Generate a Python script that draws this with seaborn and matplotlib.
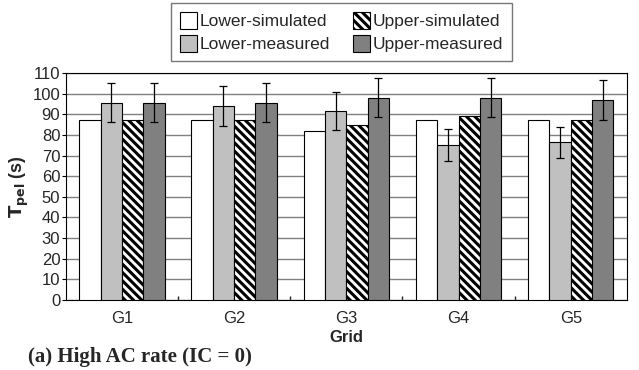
import matplotlib
matplotlib.use("Agg")
import matplotlib.pyplot as plt
import seaborn as sns
import pandas as pd
import numpy as np
from matplotlib.patches import Patch

grids = ["G1", "G2", "G3", "G4", "G5"]
series = ["Lower-simulated", "Lower-measured", "Upper-simulated", "Upper-measured"]
lower_sim = [87, 87, 82, 87, 87]
lower_meas = [95.5, 94, 91.5, 75, 76.5]
upper_sim = [87, 87, 85, 89, 87]
upper_meas = [95.5, 95.5, 98, 98, 97]
lower_meas_err = [9.5, 9.5, 9.3, 7.6, 7.5]
upper_meas_err = [9.5, 9.5, 9.5, 9.5, 9.7]
yticks = list(range(0, 111, 10))

sns.set_theme(style="white")
plt.rcParams['font.family'] = ['Liberation Sans', 'DejaVu Sans']
plt.rcParams['hatch.linewidth'] = 2.2
plt.rcParams['hatch.color'] = 'black'

df = pd.DataFrame({
    "Grid": grids * 4,
    "Series": sum([[s] * 5 for s in series], []),
    "Value": lower_sim + lower_meas + upper_sim + upper_meas,
})

fig = plt.figure(figsize=(6.39, 3.70), dpi=100)
ax = fig.add_axes([0.103, 0.189, 0.878, 0.614])

colors = ["#ffffff", "#c0c0c0", "#ffffff", "#808080"]
sns.barplot(data=df, x="Grid", y="Value", hue="Series", hue_order=series,
            palette=colors, order=grids, width=0.76, errorbar=None,
            edgecolor="black", linewidth=0.8, legend=False, ax=ax, zorder=3)

HATCH = "\\\\\\\\"
containers = ax.containers
for p in containers[2]:
    p.set_hatch(HATCH)
for cont, errs in [(containers[1], lower_meas_err), (containers[3], upper_meas_err)]:
    xs = [p.get_x() + p.get_width() / 2 for p in cont]
    hs = [p.get_height() for p in cont]
    ax.errorbar(xs, hs, yerr=errs, fmt="none", ecolor="black", elinewidth=0.9,
                capsize=3, capthick=0.9, zorder=4)

ax.set_ylim(0, 110)
ax.set_xlim(-0.5, 4.5)
ax.set_yticks(yticks)
ax.yaxis.grid(True, color="#808080", linewidth=1.0, zorder=0)
ax.set_axisbelow(True)
for s in ax.spines.values():
    s.set_color("black")
    s.set_linewidth(0.8)
ax.tick_params(axis="y", direction="out", length=3, width=0.8, labelsize=12, pad=1, left=True, color="black")
ax.tick_params(axis="x", length=0, labelsize=12, pad=8)
ax.set_xticks(np.arange(0.5, 4.5, 1.0), minor=True)
ax.tick_params(axis="x", which="minor", direction="in", length=3, bottom=True)

ax.set_xlabel("Grid", fontsize=12, fontweight="bold", labelpad=3)
ax.set_ylabel(r"$\mathbf{T_{pel}}$ (s)", fontsize=13, fontweight="bold", labelpad=1)

handles = [Patch(facecolor=c, edgecolor="black", linewidth=0.8) for c in colors]
handles[2].set_hatch(HATCH)
leg = fig.legend(handles, series, ncol=2, loc="upper left",
                 bbox_to_anchor=(0.268, 0.992), borderaxespad=0.0, frameon=True, fontsize=12.5,
                 handlelength=1.0, handleheight=1.2, handletextpad=0.15,
                 columnspacing=1.3, labelspacing=0.3, borderpad=0.5,
                 fancybox=False, edgecolor="#555555")
leg.get_frame().set_linewidth(1.0)

fig.text(0.044, 0.022, "(a) High AC rate (IC = 0)", fontsize=15, fontweight="bold",
         family=["Liberation Serif", "DejaVu Serif"])

fig.savefig("out.png", dpi=100)
